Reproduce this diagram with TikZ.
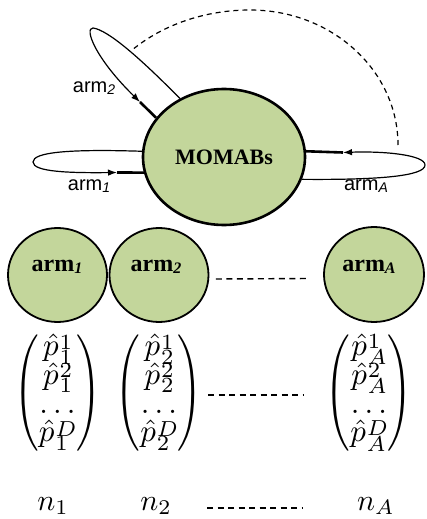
\documentclass[tikz,border=0pt]{standalone}
\usepackage{fontspec}
\usepackage{amsmath}
\usepackage{graphicx}
\usetikzlibrary{arrows.meta,calc,shapes.geometric}
\newfontfamily\lblsans{Liberation Sans}
\newfontfamily\lblserif{Liberation Serif}
\definecolor{armgreen}{RGB}{195,214,155}
% italic subscripts used in the arm labels
\newcommand{\armsub}[1]{\raisebox{-1.5pt}{\itshape\fontsize{14}{14}\selectfont #1}}
\newcommand{\armsubb}[1]{\raisebox{-1.5pt}{\bfseries\itshape\fontsize{16}{16}\selectfont #1}}
% column of estimated means for one arm, with tight rows
\newcommand{\bigparen}[1]{\vcenter{\hbox{\scalebox{1}[1.25]{$#1$}}}}
\newcommand{\prow}[1]{\rule[-2.8pt]{0pt}{9.3pt}\smash{#1}}
% p-hat with a compact superscript/subscript stack
\newcommand{\pent}[2]{\hat{p}\mkern0.5mu\lower0.6pt\hbox{$\vcenter{\offinterlineskip
  \halign{$\scriptstyle##$\hfil\cr #1\cr\noalign{\kern0.3pt}#2\cr}}$}}
\newcommand{\pvec}[1]{$\bigparen{\Biggl(}\vcenter{\offinterlineskip\halign{\hfil$##$\hfil\cr
  \prow{\pent{1}{#1}}\cr \prow{\pent{2}{#1}}\cr \prow{\dots}\cr \prow{\pent{D}{#1}}\cr}}\bigparen{\Biggr)}$}
\tikzset{
  bubble/.style={ellipse, draw, fill=armgreen, line width=1.8pt, inner sep=0pt},
  loopline/.style={line width=1.2pt},
  shaft/.style={line width=2.6pt},
  tip/.style={-{Latex[length=9pt,width=6.5pt]}},
  gapdash/.style={line width=1.4pt, dash pattern=on 6pt off 4.5pt},
  sanslbl/.style={font=\lblsans\fontsize{20}{20}\selectfont, inner sep=0pt},
  boldlbl/.style={font=\lblserif\bfseries\fontsize{24}{24}\selectfont, inner sep=0pt},
  vecnode/.style={scale=3.1, inner sep=0pt},
  countnode/.style={scale=3, inner sep=0pt},
}
\begin{document}
\begin{tikzpicture}[x=1pt,y=1pt]
\useasboundingbox (0,0) rectangle (426,-519);

% central bandit node
\node[bubble, line width=2.6pt, minimum width=162pt, minimum height=136pt,
      font=\lblserif\bfseries\fontsize{22}{22}\selectfont] (mom) at (224,-157) {MOMABs};

% self-loops for the arms
\coordinate (a1) at (117,-172.5);
\coordinate (a2) at (140,-102);
\coordinate (aA) at (343,-152.5);

\draw[loopline, tip] (mom.176) .. controls (70,-149) and (33,-152) .. (33,-162)
      .. controls (33,-172) and (70,-173) .. (a1);
\draw[shaft] (a1) -- (mom.191);

\draw[loopline, tip] (mom.127) .. controls (140,-58) and (108,-30) .. (93,-28)
      .. controls (84,-28) and (95,-58) .. (a2);
\draw[shaft] (a2) -- (mom.150);

\draw[loopline, tip] (mom.344) .. controls (380,-180) and (425,-176) .. (425,-165)
      .. controls (425,-155) and (385,-151) .. (aA);
\draw[shaft] (aA) -- (mom.4);

% the arms in between, left out
\coordinate (dA) at (398,-145);
\draw[line width=1.2pt, dash pattern=on 5pt off 4pt] (dA)
  arc[start angle=0, end angle=90, x radius=148, y radius=135]
  arc[start angle=90, end angle=135.3, x radius=166, y radius=135];

\node[sanslbl] (lab2) at (94,-88) {arm\armsub{2}};
\node[sanslbl] (lab1) at (89,-186) {arm\armsub{1}};
\node[sanslbl] (labA) at (366,-186) {arm\armsub{A}};

% one node per arm
\node[bubble, minimum width=99pt, minimum height=94pt] (c1) at (57.5,-275) {};
\node[bubble, minimum width=99pt, minimum height=94pt] (c2) at (159,-275) {};
\node[bubble, minimum width=100pt, minimum height=95pt] (cA) at (374,-274.5) {};
\node[boldlbl] (t1) at (57,-267) {arm\armsubb{1}};
\node[boldlbl] (t2) at (156,-267) {arm\armsubb{2}};
\node[boldlbl] (tA) at (369,-267) {arm\armsubb{A}};
\draw[gapdash] ([xshift=6.5pt,yshift=-4pt]c2.east) -- ([xshift=-14pt,yshift=-4pt]cA.west);

% estimated mean vectors
\node[vecnode] (v1) at (57.5,-393) {\pvec{1}};
\node[vecnode] (v2) at (159,-393) {\pvec{2}};
\node[vecnode] (vA) at (369,-393) {\pvec{A}};
\coordinate (m2) at (208,-395);
\coordinate (mA) at (303,-395);
\draw[gapdash] (m2) -- (mA);

% pull counts
\node[countnode] (n1) at (53,-506) {$n_1$};
\node[countnode] (n2) at (156,-506) {$n_2$};
\node[countnode] (nA) at (376,-506) {$n_A$};
\coordinate (k2) at (207,-508);
\coordinate (kA) at (302,-508);
\draw[gapdash] (k2) -- (kA);
\end{tikzpicture}
\end{document}
